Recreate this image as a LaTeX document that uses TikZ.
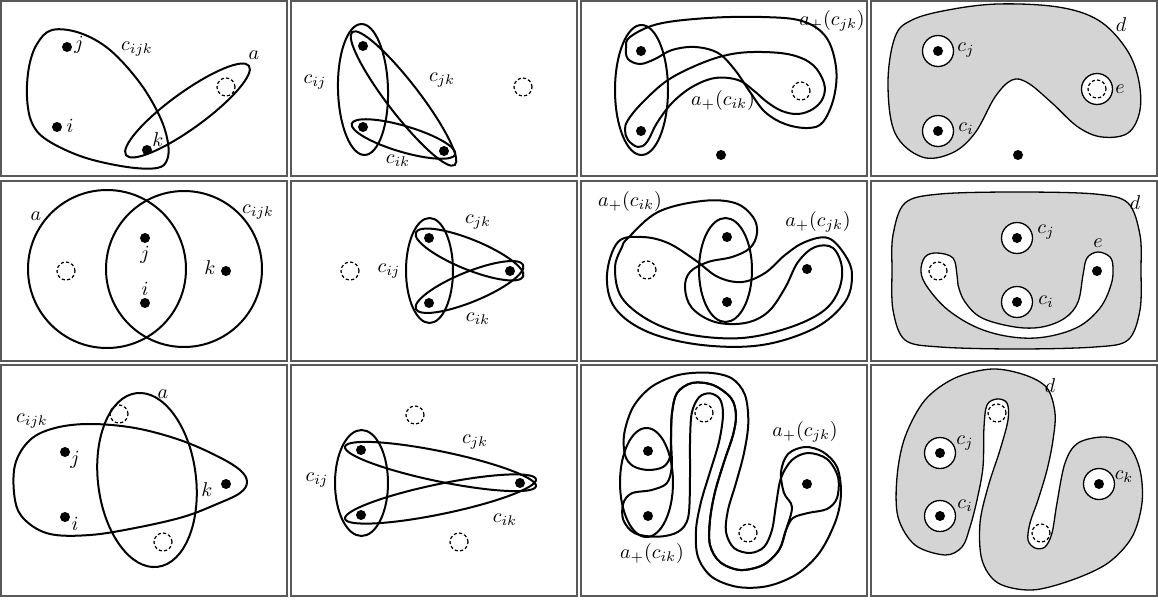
\documentclass[tikz,border=0pt]{standalone}
\begin{document}
\begin{tikzpicture}[x=0.5pt,y=-0.5pt,
  hull/.style={line width=1pt, black},
  frame/.style={draw=black!65, line width=0.6pt},
  dotn/.style={circle, fill=black, inner sep=0pt, minimum size=5pt},
  dashc/.style={circle, draw, dash pattern=on 1.6pt off 1.1pt, line width=0.6pt, inner sep=0pt, minimum size=9pt},
  ring/.style={circle, draw, fill=white, line width=0.65pt, inner sep=0pt, minimum size=15.5pt},
  lbl/.style={inner sep=0pt, font=\normalsize},
  blob/.style={fill=black!17, draw, line width=0.65pt},
  hole/.style={fill=white, draw, line width=0.65pt}
]
\useasboundingbox (0,0) rectangle (1158,600);
\foreach \xa/\xb in {1/287,291/577,581/867,871/1157}
  \foreach \ya/\yb in {1/176,181/361,365/596}
    \draw[frame] (\xa,\ya) rectangle (\xb,\yb);

% ---------- panel 1
\draw[hull] plot[smooth cycle, tension=0.6] coordinates {(52,30) (80,33) (110,50) (140,83) (160,117) (168,143) (167,160) (157,168) (127,167) (83,157) (47,140) (32,123) (27,97) (29,67) (37,44)};
\draw[hull, rotate around={36:(187.5,110.5)}] (187.5,110.5) ellipse [x radius=38pt, y radius=9pt];
\node[dotn] (p1j) at (67,47) {};
\node[dotn] (p1i) at (57,127) {};
\node[dotn] (p1k) at (147,150) {};
\node[dashc] (p1a) at (226,87) {};
\node[lbl] (l1j) at (79,45) {$j$};
\node[lbl] (l1i) at (70,126) {$i$};
\node[lbl] (l1k) at (158,140) {$k$};
\node[lbl] (l1c) at (137,49) {$c_{ijk}$};
\node[lbl] (l1a) at (254,55) {$a$};

% ---------- panel 2
\draw[hull, rotate around={1.5:(363,89.5)}] (363,89.5) ellipse [x radius=12.5pt, y radius=32.75pt];
\draw[hull, rotate around={-52.4:(403.5,98.5)}] (403.5,98.5) ellipse [x radius=42pt, y radius=8pt];
\draw[hull, rotate around={-16.5:(403.5,139)}] (403.5,139) ellipse [x radius=27pt, y radius=6.5pt];
\node[dotn] (p2j) at (363,46) {};
\node[dotn] (p2i) at (363,127) {};
\node[dotn] (p2k) at (444,151) {};
\node[dashc] (p2a) at (523,87) {};
\node[lbl] (l2ij) at (315,82) {$c_{ij}$};
\node[lbl] (l2jk) at (442,80) {$c_{jk}$};
\node[lbl] (l2ik) at (398,161) {$c_{ik}$};

% ---------- panel 3
\draw[hull] (641.5,90) ellipse [x radius=13.25pt, y radius=32.5pt];
\draw[hull] plot[smooth cycle, tension=0.6] coordinates {(630,37) (658,24) (708,18) (762,17) (802,21) (826,37) (836,67) (834,97) (823,122) (808,128) (785,124) (765,112) (750,92) (735,70) (718,53) (695,47) (672,50) (655,59) (640,64) (628,59) (626,48)};
\draw[hull] plot[smooth cycle, tension=0.6] coordinates {(628,120) (642,103) (668,80) (702,63) (732,54) (762,52) (792,55) (813,65) (824,83) (823,98) (813,109) (798,114) (782,111) (767,102) (753,90) (738,80) (715,78) (692,87) (672,103) (657,123) (647,142) (638,147) (628,140) (625,130)};
\node[dotn] (p3j) at (641,51) {};
\node[dotn] (p3i) at (641,131) {};
\node[dotn] (p3k) at (721,155) {};
\node[dashc] (p3a) at (801,91) {};
\node[lbl] (l3jk) at (832,21) {$a_+(c_{jk})$};
\node[lbl] (l3ik) at (723,100) {$a_+(c_{ik})$};

% ---------- panel 4
\draw[blob] plot[smooth cycle, tension=0.6] coordinates {(895,37) (888,83) (895,133) (922,157) (952,153) (975,133) (995,97) (1012,80) (1028,83) (1052,103) (1078,127) (1102,137) (1128,133) (1140,110) (1138,77) (1125,47) (1098,20) (1058,7) (998,4) (948,10) (912,20)};
\node[ring] (r4j) at (938,51) {};
\node[ring] (r4i) at (938,131) {};
\node[ring] (r4e) at (1097,89) {};
\node[dotn] (p4j) at (938,51) {};
\node[dotn] (p4i) at (938,131) {};
\node[dashc] (p4a) at (1097,89) {};
\node[dotn] (p4k) at (1018,155) {};
\node[lbl] (l4j) at (966,50) {$c_j$};
\node[lbl] (l4i) at (966,129) {$c_i$};
\node[lbl] (l4e) at (1120,89) {$e$};
\node[lbl] (l4d) at (1121,25) {$d$};

% ---------- panel 5
\draw[hull] (107,269) circle [radius=39.5pt];
\draw[hull] (184,269) circle [radius=39pt];
\node[dotn] (p5j) at (145,238) {};
\node[dotn] (p5i) at (145,303) {};
\node[dotn] (p5k) at (226,271) {};
\node[dashc] (p5a) at (66,271) {};
\node[lbl] (l5a) at (36,216) {$a$};
\node[lbl] (l5c) at (258,212) {$c_{ijk}$};
\node[lbl] (l5j) at (145,255) {$j$};
\node[lbl] (l5i) at (145,289) {$i$};
\node[lbl] (l5k) at (210,268) {$k$};

% ---------- panel 6
\draw[hull] (429.5,270.5) ellipse [x radius=11.75pt, y radius=26.25pt];
\draw[hull, rotate around={-22.2:(469.5,254.5)}] (469.5,254.5) ellipse [x radius=29pt, y radius=7.5pt];
\draw[hull, rotate around={22.2:(469.5,287)}] (469.5,287) ellipse [x radius=29pt, y radius=7.5pt];
\node[dotn] (p6j) at (429,238) {};
\node[dotn] (p6i) at (429,303) {};
\node[dotn] (p6k) at (510,271) {};
\node[dashc] (p6a) at (350,271) {};
\node[lbl] (l6ij) at (389,271) {$c_{ij}$};
\node[lbl] (l6jk) at (478,222) {$c_{jk}$};
\node[lbl] (l6ik) at (478,319) {$c_{ik}$};

% ---------- panel 7
\draw[hull] (725.5,270) ellipse [x radius=13.25pt, y radius=26pt];
\draw[hull] plot[smooth cycle, tension=0.6] coordinates {(628,238) (658,212) (702,201) (735,203) (753,217) (757,233) (750,248) (732,257) (708,262) (690,272) (685,288) (692,308) (715,322) (745,323) (768,312) (785,288) (798,262) (815,247) (833,248) (842,268) (838,292) (822,312) (788,328) (742,338) (692,335) (652,322) (622,298) (615,268) (622,247)};
\draw[hull] plot[smooth cycle, tension=0.6] coordinates {(618,242) (642,237) (668,243) (695,260) (718,277) (742,282) (765,273) (785,255) (805,242) (828,238) (845,255) (852,275) (845,302) (815,328) (762,345) (702,345) (648,332) (615,308) (607,275)};
\node[dotn] (p7j) at (727,237) {};
\node[dotn] (p7i) at (727,302) {};
\node[dotn] (p7k) at (807,269) {};
\node[dashc] (p7a) at (647,270) {};
\node[lbl] (l7ik) at (630,201) {$a_+(c_{ik})$};
\node[lbl] (l7jk) at (818,222) {$a_+(c_{jk})$};

% ---------- panel 8
\draw[blob] plot[smooth cycle, tension=0.55] coordinates {(905,203) (940,194) (1017,192) (1095,194) (1128,203) (1140,235) (1141,270) (1140,310) (1128,340) (1095,347) (1017,349) (940,347) (905,340) (893,310) (892,270) (893,235)};
\draw[hole] plot[smooth cycle, tension=0.6] coordinates {(937,253) (953,258) (957,275) (958,285) (965,302) (982,318) (1015,327) (1042,327) (1065,318) (1078,302) (1083,275) (1087,258) (1098,252) (1110,257) (1113,268) (1111,285) (1100,308) (1078,327) (1045,337) (1012,337) (978,328) (948,310) (928,288) (921,272) (925,257)};
\node[ring] (r8j) at (1017,238) {};
\node[ring] (r8i) at (1017,302) {};
\node[dotn] (p8j) at (1017,238) {};
\node[dotn] (p8i) at (1017,302) {};
\node[dotn] (p8k) at (1097,271) {};
\node[dashc] (p8a) at (938,271) {};
\node[lbl] (l8j) at (1046,232) {$c_j$};
\node[lbl] (l8i) at (1046,302) {$c_i$};
\node[lbl] (l8d) at (1135,203) {$d$};
\node[lbl] (l8e) at (1098,243) {$e$};

% ---------- panel 9
\draw[hull] plot[smooth cycle, tension=0.6] coordinates {(30,440) (55,428) (90,424) (135,428) (180,440) (217,456) (240,470) (247,482) (240,493) (217,504) (183,517) (135,528) (90,535) (50,534) (25,520) (15,500) (15,465)};
\draw[hull, rotate around={7:(147,480)}] (147,480) ellipse [x radius=24.5pt, y radius=43.75pt];
\node[dotn] (p9j) at (65,452) {};
\node[dotn] (p9i) at (65,517) {};
\node[dotn] (p9k) at (226,484) {};
\node[dashc] (p9a) at (119,414) {};
\node[dashc] (p9b) at (163,542) {};
\node[lbl] (l9a) at (163,394) {$a$};
\node[lbl] (l9c) at (32,421) {$c_{ijk}$};
\node[lbl] (l9j) at (75,460) {$j$};
\node[lbl] (l9i) at (75,524) {$i$};
\node[lbl] (l9k) at (207,490) {$k$};

% ---------- panel 10
\draw[hull] (361.5,483) ellipse [x radius=13.25pt, y radius=26.5pt];
\draw[hull, rotate around={-11.7:(440.5,466.5)}] (440.5,466.5) ellipse [x radius=48.75pt, y radius=7.5pt];
\draw[hull, rotate around={11.7:(440.5,499)}] (440.5,499) ellipse [x radius=48.75pt, y radius=7.5pt];
\node[dotn] (p10j) at (361,450) {};
\node[dotn] (p10i) at (361,515) {};
\node[dotn] (p10k) at (520,483) {};
\node[dashc] (p10a) at (415,415) {};
\node[dashc] (p10b) at (459,542) {};
\node[lbl] (l10ij) at (317,480) {$c_{ij}$};
\node[lbl] (l10jk) at (475,442) {$c_{jk}$};
\node[lbl] (l10ik) at (505,520) {$c_{ik}$};

% ---------- panel 11
\draw[hull] (646.5,482.5) ellipse [x radius=13.25pt, y radius=27.25pt];
\draw[hull] plot[smooth cycle, tension=0.55] coordinates {(625,455) (624.3,433.3) (633.3,406.7) (651.7,386.7) (678.3,375) (708.3,372.7) (731.7,378.3) (745,395) (748.3,423) (744,453) (736,483) (728,510) (726,532) (734,548) (750,553) (764,547) (772,530) (776,505) (781,478) (792,460) (808,453) (827,459) (838,477) (837,498) (827,509) (808,513) (793,518) (786,530) (779,550) (763,565) (740,570) (720,562) (710,545) (710,520) (715,492) (724,462) (733,435) (736,415) (731,398) (713,385) (692,383) (677,393) (672,413) (671,437) (670,457) (663,467) (648,470) (633,466)};
\draw[hull] plot[smooth cycle, tension=0.55] coordinates {(688.3,516.7) (690,476.7) (690,443.3) (691.7,413.3) (699,397.3) (710,393.3) (720,399.3) (723,415) (719,442) (710,472) (701,502) (696,530) (698,557) (712,577) (738,587) (768,586) (797,574) (820,552) (836,520) (841,493) (837,467) (823,452) (805,447) (788,454) (781,472) (784,493) (792,507) (786,530) (779,550) (763,565) (740,570) (720,562) (710,545) (710,520) (715,492) (724,462) (733,435) (736,415) (731,398) (713,385) (692,383) (677,393) (672,413) (671,437) (671.7,466.7) (666.7,483.3) (651.7,490) (631.7,493.3) (623.3,503.3) (623.3,520) (635,533.3) (658.3,536.7) (678.3,531.7)};
\node[dotn] (p11j) at (648,451) {};
\node[dotn] (p11i) at (648,516) {};
\node[dotn] (p11k) at (807,484) {};
\node[dashc] (p11a) at (704,413) {};
\node[dashc] (p11b) at (748,533) {};
\node[lbl] (l11jk) at (805,432) {$a_+(c_{jk})$};
\node[lbl] (l11ik) at (652,553) {$a_+(c_{ik})$};

% ---------- panel 12
\draw[blob] plot[smooth cycle, tension=0.55] coordinates {(945,555) (915,545) (898,517) (897,477) (905,437) (925,400) (955,378) (992,369) (1025,375) (1047,388) (1055,413) (1053,440) (1047,470) (1038,500) (1030,523) (1028,540) (1035,548) (1045,547) (1052,533) (1057,503) (1065,463) (1078,443) (1105,437) (1128,445) (1140,470) (1142,503) (1132,537) (1108,563) (1072,580) (1032,590) (998,583) (982,560) (980,523) (988,487) (1000,450) (1008,420) (1007,403) (997,399) (987,405) (984,427) (983,467) (977,500) (970,527) (962,547)};
\node[ring] (r12j) at (940,453) {};
\node[ring] (r12i) at (940,516) {};
\node[ring] (r12k) at (1099,484) {};
\node[dotn] (p12j) at (940,453) {};
\node[dotn] (p12i) at (940,516) {};
\node[dotn] (p12k) at (1099,484) {};
\node[dashc] (p12a) at (997,413) {};
\node[dashc] (p12b) at (1041,533) {};
\node[lbl] (l12d) at (1050,386) {$d$};
\node[lbl] (l12j) at (965,443) {$c_j$};
\node[lbl] (l12i) at (965,506) {$c_i$};
\node[lbl] (l12k) at (1124,477) {$c_k$};
\end{tikzpicture}
\end{document}
